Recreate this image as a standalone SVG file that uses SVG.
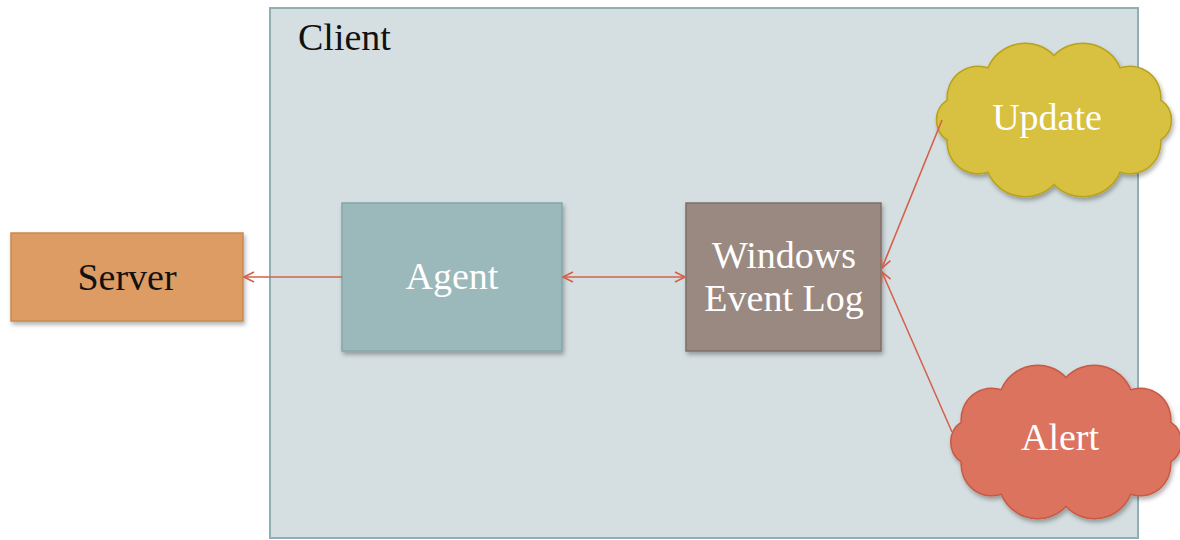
<svg xmlns="http://www.w3.org/2000/svg" width="1180" height="540" viewBox="0 0 1180 540">
<style>
.t{font-family:"Liberation Serif","DejaVu Serif",serif;font-size:38px;}
.w{fill:#ffffff;}
.k{fill:#111111;}
.c{stroke:#d4604a;stroke-width:1.6;fill:none;}
</style>
<defs>
<filter id="sh" x="-10%" y="-10%" width="130%" height="130%">
<feDropShadow dx="1.5" dy="3" stdDeviation="2" flood-color="#000" flood-opacity="0.3"/>
</filter>
<marker id="ah" viewBox="0 0 12 12" refX="11" refY="6" markerWidth="12" markerHeight="12" markerUnits="userSpaceOnUse" orient="auto-start-reverse">
<path d="M1,1 L11,6 L1,11" fill="none" stroke="#d4604a" stroke-width="1.6"/>
</marker>
<path id="cloud" d="M102.7,19.2 A30,30 0 0 1 63.5,50.2 A38.8,38.8 0 0 1 0,62 A38.8,38.8 0 0 1 -63.5,50.2 A30,30 0 0 1 -102.7,19.2 A23,23 0 0 1 -102.7,-19.2 A30,30 0 0 1 -63.5,-50.2 A38.8,38.8 0 0 1 0,-62 A38.8,38.8 0 0 1 63.5,-50.2 A30,30 0 0 1 102.7,-19.2 A23,23 0 0 1 102.7,19.2 Z"/>
</defs>
<rect width="1180" height="540" fill="#ffffff"/>
<g id="client">
<rect x="270" y="8" width="868" height="530" fill="#d5dfe1" stroke="#8fb0b2" stroke-width="2"/>
<text class="t k" x="298" y="50">Client</text>
</g>
<g id="server">
<rect x="11" y="233" width="232" height="88" fill="#dd9c63" stroke="#c88a4c" stroke-width="1.5" filter="url(#sh)"/>
<text class="t k" x="127" y="290" text-anchor="middle">Server</text>
</g>
<g id="agent">
<rect x="342" y="203" width="220" height="148" fill="#9bb8bb" stroke="#84a6a9" stroke-width="1.5" filter="url(#sh)"/>
<text class="t w" x="452" y="289" text-anchor="middle">Agent</text>
</g>
<g id="eventlog">
<rect x="686" y="203" width="195" height="148" fill="#9a8980" stroke="#7f6f67" stroke-width="1.5" filter="url(#sh)"/>
<text class="t w" x="784" y="268" text-anchor="middle">Windows</text>
<text class="t w" x="784" y="311" text-anchor="middle">Event Log</text>
</g>
<g id="update">
<use href="#cloud" transform="translate(1054,120) scale(1.04,1.04)" fill="#d8c03f" stroke="#b9a21a" stroke-width="1.5" filter="url(#sh)"/>
<text class="t w" x="1047" y="130" text-anchor="middle">Update</text>
</g>
<g id="alert">
<use href="#cloud" transform="translate(1066,442) scale(1.02,1.04)" fill="#dc735e" stroke="#c85a45" stroke-width="1.5" filter="url(#sh)"/>
<text class="t w" x="1060" y="450" text-anchor="middle">Alert</text>
</g>
<g id="connectors">
<line class="c" x1="342" y1="277" x2="244" y2="277" marker-end="url(#ah)"/>
<line class="c" x1="563" y1="277" x2="685" y2="277" marker-start="url(#ah)" marker-end="url(#ah)"/>
<line class="c" x1="942" y1="120" x2="882" y2="268" marker-end="url(#ah)"/>
<line class="c" x1="952" y1="432" x2="882" y2="272" marker-end="url(#ah)"/>
</g>
</svg>
